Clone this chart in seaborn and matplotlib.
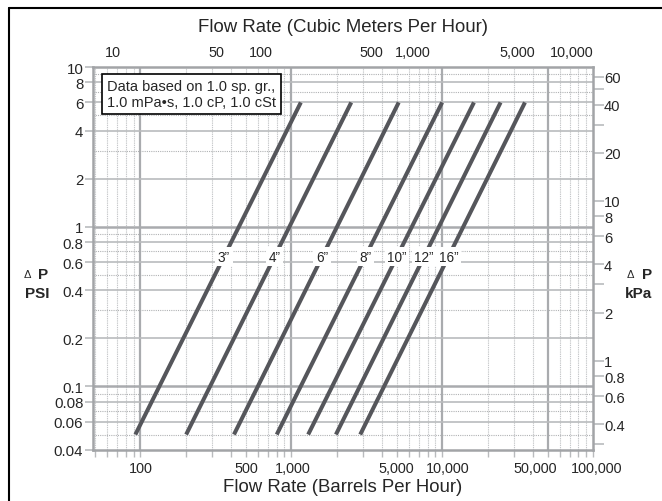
import numpy as np
import pandas as pd
import matplotlib
matplotlib.use("Agg")
import matplotlib.pyplot as plt
import seaborn as sns
from matplotlib.ticker import FixedLocator, NullLocator, FuncFormatter, NullFormatter
from matplotlib.lines import Line2D
from matplotlib.transforms import blended_transform_factory, ScaledTranslation

# ---------------- data ----------------
pipe_sizes = ["3\u201d", "4\u201d", "6\u201d", "8\u201d", "10\u201d", "12\u201d", "16\u201d"]
flow_start_bph = [92.6, 201, 417, 801, 1294, 1977, 2865]        # at dp_start_psi
flow_end_bph = [1157, 2497, 5153, 10000, 16250, 24400, 35400]   # at dp_end_psi
dp_start_psi = 0.05
dp_end_psi = 6.0
label_dp_psi = 0.65

bottom_ticks = [100, 500, 1000, 5000, 10000, 50000, 100000]
top_ticks = [10, 50, 100, 500, 1000, 5000, 10000]
left_ticks = [0.04, 0.06, 0.08, 0.1, 0.2, 0.4, 0.6, 0.8, 1, 2, 4, 6, 8, 10]
right_ticks = [0.4, 0.6, 0.8, 1, 2, 4, 6, 8, 10, 20, 40, 60]
right_minor_ticks = [0.3, 3, 30, 50]

BBL_PER_M3 = 6.2898
KPA_PER_PSI = 6.89476

# label nudges in pixels (layout only)
bottom_dx = [0, 0, 1, 0, 6, -12, 4]
top_dx = [3, 1, 0, 5, 1, 0, 9]

# gridline positions (styling)
v_solid = [100, 1000, 10000, 50000]
v_dotted = [d * m for d in (10, 100, 1000, 10000) for m in range(2, 10)
            if 48 < d * m < 100000 and d * m != 50000]
h_solid = [0.06, 0.08, 0.2, 0.4, 0.6, 0.8, 2, 4, 6, 8]
h_heavy = [0.1, 1]
h_dotted = [0.05, 0.07, 0.09, 0.3, 0.5, 0.7, 0.9, 3, 5, 7, 9]

# ---------------- style ----------------
sns.set_style("white")
plt.rcParams["font.family"] = ["Liberation Sans", "DejaVu Sans"]
TXT = "#262626"
GRID = "#b9bbbd"
SPINE = "#a2a4a7"
LINE = "#55565b"

fig = plt.figure(figsize=(6.62, 5.02), dpi=100)
ax = fig.add_axes([93 / 662, 1 - 451 / 502, 500 / 662, 383 / 502])
ax.set_xscale("log")
ax.set_yscale("log")
ax.set_xlim(48.5, 100000)
ax.set_ylim(0.04, 10)

# gridlines
for v in v_dotted:
    ax.axvline(v, color="#c6c8ca", lw=0.8, ls=(0, (1.2, 0.8)), zorder=0.5)
for v in v_solid:
    ax.axvline(v, color="#a9abae", lw=1.6, zorder=0.6)
for h in h_dotted:
    ax.axhline(h, color="#b0b2b4", lw=0.8, ls=(0, (1, 1)), zorder=0.5)
for h in h_solid:
    ax.axhline(h, color=GRID, lw=1.2, zorder=0.6)
for h in h_heavy:
    ax.axhline(h, color="#a9abae", lw=1.8, zorder=0.6)

# lines
rows = []
for s, f0, f1 in zip(pipe_sizes, flow_start_bph, flow_end_bph):
    rows.append({"size": s, "flow": f0, "dp": dp_start_psi})
    rows.append({"size": s, "flow": f1, "dp": dp_end_psi})
df = pd.DataFrame(rows)
sns.lineplot(data=df, x="flow", y="dp", hue="size", palette={s: LINE for s in pipe_sizes},
             legend=False, lw=2.9, sort=False, ax=ax, zorder=3,
             solid_capstyle="butt")

# pipe size labels
t = (np.log10(label_dp_psi) - np.log10(dp_start_psi)) / (np.log10(dp_end_psi) - np.log10(dp_start_psi))
for s, f0, f1 in zip(pipe_sizes, flow_start_bph, flow_end_bph):
    xl = 10 ** (np.log10(f0) + t * (np.log10(f1) - np.log10(f0)))
    ax.text(xl, label_dp_psi, s, ha="center", va="center", fontsize=9.8, color=TXT, zorder=4,
            bbox=dict(boxstyle="square,pad=0.2", fc="white", ec="none"))

# info box
ax.text(0.0274, 0.969, "Data based on 1.0 sp. gr.,\n1.0 mPa\u2022s, 1.0 cP, 1.0 cSt",
        transform=ax.transAxes, ha="left", va="top", fontsize=10.5, color=TXT, zorder=5,
        linespacing=1.2,
        bbox=dict(boxstyle="square,pad=0.35", fc="white", ec="black", lw=1.2))

# spines
for sp in ax.spines.values():
    sp.set_color(SPINE)
    sp.set_linewidth(1.8)

gfmt = FuncFormatter(lambda v, p: f"{v:g}")

# bottom axis: ticks from the axis, labels placed at tick values with small nudges
ax.xaxis.set_major_locator(FixedLocator(bottom_ticks))
ax.xaxis.set_major_formatter(NullFormatter())
ax.xaxis.set_minor_locator(FixedLocator(v_dotted))
ax.xaxis.set_minor_formatter(NullFormatter())
ax.tick_params(axis="x", which="both", direction="out", length=5, width=1, color=GRID, bottom=True)
ax.set_xlabel("")
xb = blended_transform_factory(ax.transData, fig.transFigure)
for v, dx in zip(bottom_ticks, bottom_dx):
    ax.text(v, 1 - 469.3 / 502, f"{v:,}", transform=xb + ScaledTranslation(dx / 100, 0, fig.dpi_scale_trans),
            ha="center", va="center", fontsize=10.4, color=TXT)

# top axis (m3/h) on the same log scale
for v, dx in zip(top_ticks, top_dx):
    ax.text(v * BBL_PER_M3, 1 - 53.3 / 502, f"{v:,}",
            transform=xb + ScaledTranslation(dx / 100, 0, fig.dpi_scale_trans),
            ha="center", va="center", fontsize=10.4, color=TXT)

# left axis
ax.yaxis.set_major_locator(FixedLocator(left_ticks))
ax.yaxis.set_major_formatter(gfmt)
ax.yaxis.set_minor_locator(NullLocator())
ax.tick_params(axis="y", which="both", direction="out", length=6, width=1.2, color=GRID,
               labelsize=10.8, labelcolor=TXT, pad=1, left=True)
ax.set_ylabel("")

# right secondary axis (kPa)
secy = ax.secondary_yaxis("right", functions=(lambda p: p * KPA_PER_PSI, lambda k: k / KPA_PER_PSI))
secy.yaxis.set_major_locator(FixedLocator(right_ticks))
secy.yaxis.set_major_formatter(gfmt)
secy.yaxis.set_minor_locator(FixedLocator(right_minor_ticks))
secy.yaxis.set_minor_formatter(NullFormatter())
secy.tick_params(axis="y", which="both", direction="out", length=8, width=1.2, color=GRID,
                 labelsize=10.6, labelcolor=TXT, pad=0)
secy.spines["right"].set_visible(False)

# axis titles
fig.text(343 / 662, 1 - 27 / 502, "Flow Rate (Cubic Meters Per Hour)", ha="center", va="center",
         fontsize=13.4, color=TXT)
fig.text(343 / 662, 1 - 488 / 502, "Flow Rate (Barrels Per Hour)", ha="center", va="center",
         fontsize=13.4, color=TXT)

fig.text(27 / 662, 1 - 275 / 502, "\u0394", ha="center", va="center", fontsize=8, color=TXT)
fig.text(43 / 662, 1 - 275 / 502, "P", ha="center", va="center", fontsize=11, weight="bold", color=TXT)
fig.text(37 / 662, 1 - 294 / 502, "PSI", ha="center", va="center", fontsize=11, weight="bold", color=TXT)

fig.text(630 / 662, 1 - 275 / 502, "\u0394", ha="center", va="center", fontsize=8, color=TXT)
fig.text(647 / 662, 1 - 275 / 502, "P", ha="center", va="center", fontsize=11, weight="bold", color=TXT)
fig.text(638 / 662, 1 - 294 / 502, "kPa", ha="center", va="center", fontsize=11, weight="bold", color=TXT)

# outer frame (left and top edges visible)
fig.add_artist(Line2D([8.5 / 662, 8.5 / 662], [0, 1 - 9 / 502], transform=fig.transFigure,
                      color="black", lw=1.5))
fig.add_artist(Line2D([8.5 / 662, 1], [1 - 9 / 502, 1 - 9 / 502], transform=fig.transFigure,
                      color="black", lw=1.5))

fig.savefig("out.png", dpi=100)
